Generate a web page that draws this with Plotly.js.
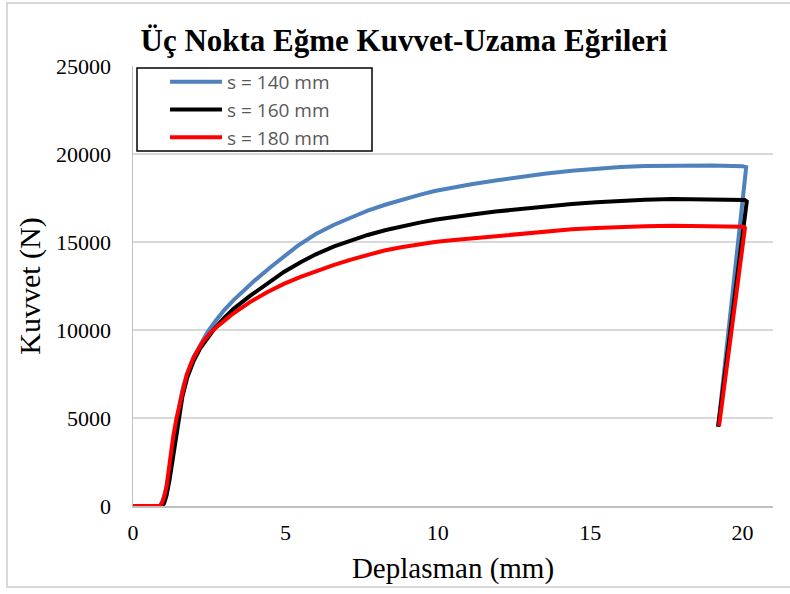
<!DOCTYPE html>
<html>
<head>
<meta charset="utf-8">
<script src="https://cdn.plot.ly/plotly-3.0.1.min.js"></script>
<style>html,body{margin:0;padding:0;background:#fff;}#chart{width:790px;height:594px;}</style>
</head>
<body>
<div id="chart"></div>
<script>
// Series names
const seriesNames = ['s = 140 mm', 's = 160 mm', 's = 180 mm'];

// s = 140 mm : displacement (mm) and force (N)
const x140 = [0, 0.5, 0.88, 0.95, 1.05, 1.15, 1.25, 1.35, 1.45, 1.55, 1.65, 1.75, 1.87, 2.0, 2.2, 2.45, 2.7, 3.0, 3.3, 3.6, 4.0, 4.5, 5.0, 5.4, 6.0, 6.6, 7.2, 7.7, 8.3, 8.8, 9.4, 9.9, 10.5, 11.1, 11.9, 12.7, 13.5, 14.4, 15.2, 16.0, 16.8, 17.7, 19.0, 20.0, 20.12, 19.2];
const y140 = [0, 0, 0, 200, 700, 1500, 2700, 3900, 5000, 6000, 6800, 7400, 7950, 8500, 9150, 9900, 10500, 11150, 11700, 12200, 12820, 13550, 14250, 14780, 15450, 15980, 16420, 16780, 17130, 17400, 17680, 17900, 18100, 18280, 18500, 18700, 18880, 19050, 19170, 19260, 19320, 19350, 19340, 19310, 19250, 4500];

// s = 160 mm
const x160 = [0, 0.5, 0.95, 1.02, 1.1, 1.2, 1.3, 1.4, 1.5, 1.62, 1.78, 1.98, 2.2, 2.45, 2.68, 3.0, 3.3, 3.85, 4.4, 4.95, 5.5, 6.0, 6.6, 7.2, 7.7, 8.3, 8.8, 9.4, 9.9, 10.5, 11.2, 11.9, 12.7, 13.5, 14.4, 15.2, 16.0, 16.8, 17.7, 19.0, 20.07, 20.14, 19.2];
const y160 = [0, 0, 0, 150, 600, 1500, 2700, 3900, 5000, 6200, 7300, 8200, 8950, 9600, 10100, 10700, 11200, 11950, 12650, 13300, 13850, 14300, 14750, 15120, 15400, 15680, 15880, 16100, 16260, 16420, 16580, 16730, 16880, 17020, 17160, 17260, 17340, 17400, 17440, 17420, 17390, 17300, 4500];

// s = 180 mm
const x180 = [0, 0.5, 0.88, 0.95, 1.02, 1.1, 1.21, 1.32, 1.43, 1.6, 1.76, 1.98, 2.3, 2.55, 2.8, 3.3, 3.85, 4.4, 4.95, 5.5, 6.05, 6.6, 7.15, 7.7, 8.25, 8.8, 9.35, 9.9, 10.45, 11.4, 12.0, 12.7, 13.5, 14.4, 15.2, 16.0, 16.8, 17.7, 19.0, 20.02, 20.08, 19.23];
const y180 = [0, 0, 0, 150, 500, 1100, 2600, 3950, 5000, 6350, 7450, 8400, 9350, 9850, 10250, 10950, 11600, 12150, 12620, 13020, 13380, 13700, 14000, 14280, 14520, 14700, 14860, 15000, 15100, 15260, 15360, 15480, 15600, 15720, 15800, 15860, 15900, 15920, 15900, 15870, 15800, 4540];

// Axis ticks
const xTicks = [0, 5, 10, 15, 20];
const yTicks = [0, 5000, 10000, 15000, 20000, 25000];

const colors = ['#4F81BD', '#000000', '#FF0000'];
const xs = [x140, x160, x180];
const ys = [y140, y160, y180];

const traces = seriesNames.map((n, i) => ({
  type: 'scatter', mode: 'lines', name: n,
  x: xs[i], y: ys[i],
  line: {color: colors[i], width: 4},
  hoverinfo: 'skip'
}));

const serif = '"Liberation Serif", "Times New Roman", serif';

const layout = {
  width: 790, height: 594,
  margin: {l: 133, r: 17, t: 66, b: 88},
  paper_bgcolor: '#ffffff', plot_bgcolor: '#ffffff',
  title: {
    text: '<b>Üç Nokta Eğme Kuvvet-Uzama Eğrileri</b>',
    font: {family: serif, size: 31, color: '#000'},
    xref: 'paper', x: 0.4234, xanchor: 'center',
    yref: 'container', y: 0.933, yanchor: 'middle'
  },
  xaxis: {
    range: [0, 21], tickvals: xTicks, ticktext: xTicks.map(String),
    showgrid: false, zeroline: false,
    showline: true, linecolor: '#bfbfbf', linewidth: 1.5,
    ticks: '', ticklabelstandoff: 6,
    tickfont: {family: serif, size: 22, color: '#000'},
    title: {text: 'Deplasman (mm)', font: {family: serif, size: 29, color: '#000'}, standoff: 14}
  },
  yaxis: {
    range: [0, 25000], tickvals: yTicks, ticktext: yTicks.map(String),
    showgrid: true, gridcolor: '#d9d9d9', gridwidth: 1.5, zeroline: false,
    showline: true, linecolor: '#bfbfbf', linewidth: 1.5,
    ticks: '', ticklabelstandoff: 16,
    tickfont: {family: serif, size: 22, color: '#000'},
    title: {text: 'Kuvvet (N)', font: {family: serif, size: 30, color: '#000'}, standoff: 6}
  },
  showlegend: true,
  legend: {
    x: (165 - 133) / 640, xanchor: 'left',
    y: (506 - 63) / 440, yanchor: 'top',
    bgcolor: 'rgba(0,0,0,0)', borderwidth: 0,
    font: {family: '"Open Sans", Lato, sans-serif', size: 19, color: '#595959'},
    itemwidth: 52, tracegroupgap: 0
  },
  shapes: [
    {type: 'rect', xref: 'paper', yref: 'paper', layer: 'below',
     x0: (7 - 133) / 640, x1: (800 - 133) / 640, y0: (506 - 587) / 440, y1: (506 - 3) / 440,
     line: {color: '#d9d9d9', width: 2}, fillcolor: 'rgba(0,0,0,0)'},
    {type: 'rect', xref: 'paper', yref: 'paper', layer: 'above',
     x0: (137 - 133) / 640, x1: (372 - 133) / 640, y0: (506 - 151) / 440, y1: (506 - 68) / 440,
     line: {color: '#000000', width: 1.5}, fillcolor: 'rgba(255,255,255,0)'}
  ]
};

Plotly.newPlot('chart', traces, layout, {displayModeBar: false, staticPlot: true});
</script>
</body>
</html>
